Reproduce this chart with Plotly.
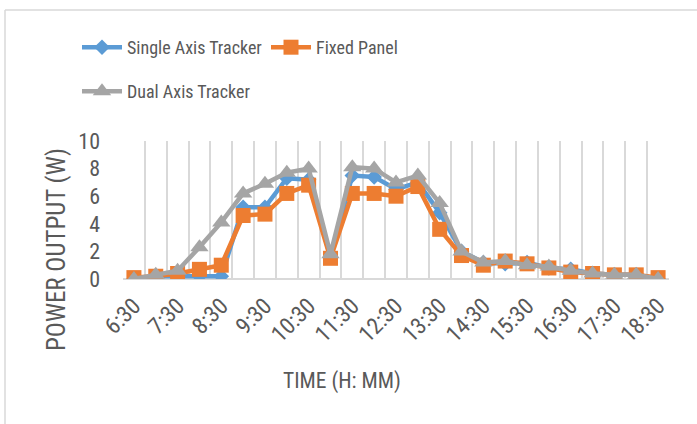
import plotly.graph_objects as go

times = ["6:30","7:00","7:30","8:00","8:30","9:00","9:30","10:00","10:30","11:00","11:30","12:00",
         "12:30","13:00","13:30","14:00","14:30","15:00","15:30","16:00","16:30","17:00","17:30","18:00","18:30"]
single_axis = [0.0,0.2,0.2,0.2,0.2,5.2,5.2,7.3,7.2,1.6,7.5,7.4,6.5,7.0,4.8,2.0,1.2,1.1,1.2,0.8,0.7,0.4,0.3,0.3,0.0]
fixed_panel = [0.1,0.2,0.4,0.7,1.0,4.6,4.7,6.2,6.8,1.5,6.2,6.2,6.0,6.7,3.6,1.7,1.0,1.3,1.1,0.8,0.5,0.4,0.3,0.3,0.1]
dual_axis   = [0.0,0.3,0.6,2.3,4.1,6.2,6.9,7.7,8.0,1.8,8.1,8.0,7.0,7.5,5.5,2.0,1.2,1.3,1.0,0.9,0.6,0.4,0.3,0.3,0.0]
tick_labels = times[::2]
y_ticks = [0, 2, 4, 6, 8, 10]

FONT = "Liberation Sans Narrow, Roboto Condensed, Arial Narrow, Liberation Sans, sans-serif"
TXT = "#595959"
xs = list(range(len(times)))

W, H = 697, 424
L, R, T, B = 123, 28, 141, 145
pw, ph = W - L - R, H - T - B
def px(x): return (x - L) / pw
def py(y): return 1 - (y - T) / ph

fig = go.Figure()
fig.add_trace(go.Scatter(x=xs, y=single_axis, name="Single Axis Tracker", mode="lines+markers",
                         line=dict(color="#5B9BD5", width=4.5),
                         marker=dict(symbol="diamond", size=12, color="#5B9BD5"), legend="legend"))
fig.add_trace(go.Scatter(x=xs, y=fixed_panel, name="Fixed Panel", mode="lines+markers",
                         line=dict(color="#ED7D31", width=4.5),
                         marker=dict(symbol="square", size=15, color="#ED7D31"), legend="legend"))
fig.add_trace(go.Scatter(x=xs, y=dual_axis, name="Dual Axis Tracker", mode="lines+markers",
                         line=dict(color="#A5A5A5", width=4.5),
                         marker=dict(symbol="triangle-up", size=16, color="#A5A5A5"), legend="legend2"))

fig.update_layout(
    width=W, height=H,
    margin=dict(l=L, r=R, t=T, b=B, autoexpand=False),
    paper_bgcolor="white", plot_bgcolor="white",
    font=dict(family=FONT, color=TXT, size=17),
    showlegend=True,
    legend=dict(orientation="h", x=px(77), y=py(29), xanchor="left", yanchor="top",
                font=dict(size=18, color=TXT, family=FONT), bgcolor="rgba(0,0,0,0)",
                entrywidth=134, itemwidth=40),
    legend2=dict(orientation="h", x=px(77), y=py(73), xanchor="left", yanchor="top",
                 font=dict(size=18, color=TXT, family=FONT), bgcolor="rgba(0,0,0,0)", itemwidth=40),
    xaxis=dict(range=[-0.5, len(times)-0.5], tickmode="array",
               tickvals=xs[::2], ticktext=tick_labels, tickangle=-45,
               showgrid=False, zeroline=False, showline=False, ticks="",
               ticklabelstandoff=8,
               tickfont=dict(size=23, color=TXT),
               minor=dict(tickmode="array", tickvals=[i - 0.5 for i in range(len(times)+1)],
                          showgrid=True, gridcolor="#D9D9D9", gridwidth=1.5, ticks="")),
    yaxis=dict(range=[0, 10], tickvals=y_ticks, showgrid=False, zeroline=True,
               zerolinecolor="#D9D9D9", zerolinewidth=1.5, showline=False, ticks="",
               ticklabelstandoff=22, tickfont=dict(size=22, color=TXT)),
    annotations=[
        dict(text="POWER OUTPUT (W)", x=px(56), y=py(250), xref="paper", yref="paper", showarrow=False,
             xanchor="center", yanchor="middle", textangle=-90, font=dict(size=25, color=TXT)),
        dict(text="TIME (H: MM)", x=px(342), y=py(381), xref="paper", yref="paper", showarrow=False,
             xanchor="center", yanchor="middle", font=dict(size=21.5, color=TXT)),
    ],
)
fig.add_shape(type="line", xref="paper", yref="paper", x0=px(5), x1=px(697), y0=py(10), y1=py(10),
              line=dict(color="#D9D9D9", width=1.5))
fig.add_shape(type="line", xref="paper", yref="paper", x0=px(5), x1=px(5), y0=py(10), y1=py(424),
              line=dict(color="#D9D9D9", width=1.5))

fig.write_html("out.html", config={"displayModeBar": False},
               post_script="document.body.style.margin='0';")
